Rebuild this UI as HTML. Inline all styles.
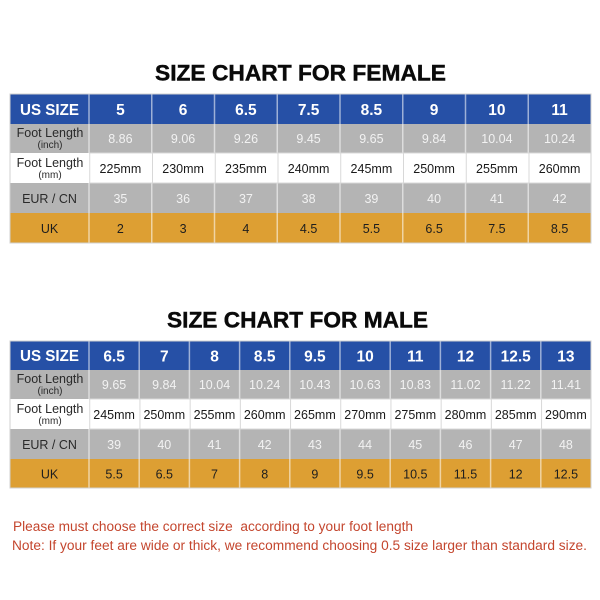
<!DOCTYPE html>
<html>
<head>
<meta charset="utf-8">
<style>
html,body{margin:0;padding:0;background:#fff;}
svg{display:block;}
text{font-family:"Liberation Sans",Arial,sans-serif;}
.t{font-weight:bold;font-size:22.5px;fill:#0a0a0a;stroke:#0a0a0a;stroke-width:0.45;text-anchor:middle;}
.h{font-weight:bold;font-size:15.5px;fill:#fff;text-anchor:middle;}
.lab{font-size:12.5px;fill:#2a2a2a;text-anchor:middle;}
.sub{font-size:10px;fill:#2a2a2a;text-anchor:middle;}
.g{font-size:12.5px;fill:#f2f2f2;text-anchor:middle;}
.w{font-size:12.5px;fill:#1a1a1a;text-anchor:middle;}
.o{font-size:12.5px;fill:#1e1e1e;text-anchor:middle;}
.n{font-size:13.5px;fill:#c4462e;}
</style>
</head>
<body>
<svg width="600" height="600" viewBox="0 0 600 600" xmlns="http://www.w3.org/2000/svg">
<rect width="600" height="600" fill="#fff"/>

<!-- FEMALE -->
<text class="t" x="300.5" y="80.5" textLength="291" lengthAdjust="spacingAndGlyphs">SIZE CHART FOR FEMALE</text>
<rect x="10" y="94" width="581" height="30" fill="#2650a6"/>
<rect x="10" y="124" width="581" height="29" fill="#b4b4b4"/>
<rect x="10" y="153" width="581" height="30" fill="#ffffff"/>
<rect x="10" y="183" width="581" height="30" fill="#b4b4b4"/>
<rect x="10" y="213" width="581" height="30" fill="#dd9f33"/>
<g stroke="#ffffff" stroke-opacity="0.55" stroke-width="1.5">
<line x1="89" y1="94" x2="89" y2="243"/>
<line x1="151.75" y1="94" x2="151.75" y2="243"/>
<line x1="214.5" y1="94" x2="214.5" y2="243"/>
<line x1="277.25" y1="94" x2="277.25" y2="243"/>
<line x1="340" y1="94" x2="340" y2="243"/>
<line x1="402.75" y1="94" x2="402.75" y2="243"/>
<line x1="465.5" y1="94" x2="465.5" y2="243"/>
<line x1="528.25" y1="94" x2="528.25" y2="243"/>
</g>
<g stroke="#d8d8d8" stroke-width="1">
<line x1="89" y1="153" x2="591" y2="153"/>
<line x1="89" y1="183" x2="591" y2="183"/>
<line x1="89.75" y1="153" x2="89.75" y2="183"/>
<line x1="152.5" y1="153" x2="152.5" y2="183"/>
<line x1="215.25" y1="153" x2="215.25" y2="183"/>
<line x1="278" y1="153" x2="278" y2="183"/>
<line x1="340.75" y1="153" x2="340.75" y2="183"/>
<line x1="403.5" y1="153" x2="403.5" y2="183"/>
<line x1="466.25" y1="153" x2="466.25" y2="183"/>
<line x1="529" y1="153" x2="529" y2="183"/>
</g>
<rect x="10" y="94" width="581" height="149" fill="none" stroke="#d0d0d0" stroke-width="1"/>

<text class="h" x="49.5" y="115" textLength="59" lengthAdjust="spacingAndGlyphs">US SIZE</text>
<text class="h" x="120.4" y="115">5</text>
<text class="h" x="183.1" y="115">6</text>
<text class="h" x="245.9" y="115">6.5</text>
<text class="h" x="308.6" y="115">7.5</text>
<text class="h" x="371.4" y="115">8.5</text>
<text class="h" x="434.1" y="115">9</text>
<text class="h" x="496.9" y="115">10</text>
<text class="h" x="559.6" y="115">11</text>

<text class="lab" x="50" y="137">Foot Length</text>
<text class="sub" x="50" y="148">(inch)</text>
<text class="g" x="120.4" y="143">8.86</text>
<text class="g" x="183.1" y="143">9.06</text>
<text class="g" x="245.9" y="143">9.26</text>
<text class="g" x="308.6" y="143">9.45</text>
<text class="g" x="371.4" y="143">9.65</text>
<text class="g" x="434.1" y="143">9.84</text>
<text class="g" x="496.9" y="143">10.04</text>
<text class="g" x="559.6" y="143">10.24</text>

<text class="lab" x="50" y="167">Foot Length</text>
<text class="sub" x="50" y="178">(mm)</text>
<text class="w" x="120.4" y="173">225mm</text>
<text class="w" x="183.1" y="173">230mm</text>
<text class="w" x="245.9" y="173">235mm</text>
<text class="w" x="308.6" y="173">240mm</text>
<text class="w" x="371.4" y="173">245mm</text>
<text class="w" x="434.1" y="173">250mm</text>
<text class="w" x="496.9" y="173">255mm</text>
<text class="w" x="559.6" y="173">260mm</text>

<text class="lab" x="49.5" y="203">EUR / CN</text>
<text class="g" x="120.4" y="203">35</text>
<text class="g" x="183.1" y="203">36</text>
<text class="g" x="245.9" y="203">37</text>
<text class="g" x="308.6" y="203">38</text>
<text class="g" x="371.4" y="203">39</text>
<text class="g" x="434.1" y="203">40</text>
<text class="g" x="496.9" y="203">41</text>
<text class="g" x="559.6" y="203">42</text>

<text class="o" x="49.5" y="233">UK</text>
<text class="o" x="120.4" y="233">2</text>
<text class="o" x="183.1" y="233">3</text>
<text class="o" x="245.9" y="233">4</text>
<text class="o" x="308.6" y="233">4.5</text>
<text class="o" x="371.4" y="233">5.5</text>
<text class="o" x="434.1" y="233">6.5</text>
<text class="o" x="496.9" y="233">7.5</text>
<text class="o" x="559.6" y="233">8.5</text>

<!-- MALE -->
<text class="t" x="297.5" y="327.5" textLength="261" lengthAdjust="spacingAndGlyphs">SIZE CHART FOR MALE</text>
<rect x="10" y="341" width="581" height="29" fill="#2650a6"/>
<rect x="10" y="370" width="581" height="29" fill="#b4b4b4"/>
<rect x="10" y="399" width="581" height="30" fill="#ffffff"/>
<rect x="10" y="429" width="581" height="30" fill="#b4b4b4"/>
<rect x="10" y="459" width="581" height="29" fill="#dd9f33"/>
<g stroke="#ffffff" stroke-opacity="0.55" stroke-width="1.5">
<line x1="89" y1="341" x2="89" y2="488"/>
<line x1="139.2" y1="341" x2="139.2" y2="488"/>
<line x1="189.4" y1="341" x2="189.4" y2="488"/>
<line x1="239.6" y1="341" x2="239.6" y2="488"/>
<line x1="289.8" y1="341" x2="289.8" y2="488"/>
<line x1="340" y1="341" x2="340" y2="488"/>
<line x1="390.2" y1="341" x2="390.2" y2="488"/>
<line x1="440.4" y1="341" x2="440.4" y2="488"/>
<line x1="490.6" y1="341" x2="490.6" y2="488"/>
<line x1="540.8" y1="341" x2="540.8" y2="488"/>
</g>
<g stroke="#d8d8d8" stroke-width="1">
<line x1="89" y1="399" x2="591" y2="399"/>
<line x1="89" y1="429" x2="591" y2="429"/>
<line x1="89.75" y1="399" x2="89.75" y2="429"/>
<line x1="139.95" y1="399" x2="139.95" y2="429"/>
<line x1="190.15" y1="399" x2="190.15" y2="429"/>
<line x1="240.35" y1="399" x2="240.35" y2="429"/>
<line x1="290.55" y1="399" x2="290.55" y2="429"/>
<line x1="340.75" y1="399" x2="340.75" y2="429"/>
<line x1="390.95" y1="399" x2="390.95" y2="429"/>
<line x1="441.15" y1="399" x2="441.15" y2="429"/>
<line x1="491.35" y1="399" x2="491.35" y2="429"/>
<line x1="541.55" y1="399" x2="541.55" y2="429"/>
</g>
<rect x="10" y="341" width="581" height="147" fill="none" stroke="#d0d0d0" stroke-width="1"/>

<text class="h" x="49.5" y="361" textLength="59" lengthAdjust="spacingAndGlyphs">US SIZE</text>
<text class="h" x="114.1" y="361.5">6.5</text>
<text class="h" x="164.3" y="361.5">7</text>
<text class="h" x="214.5" y="361.5">8</text>
<text class="h" x="264.7" y="361.5">8.5</text>
<text class="h" x="314.9" y="361.5">9.5</text>
<text class="h" x="365.1" y="361.5">10</text>
<text class="h" x="415.3" y="361.5">11</text>
<text class="h" x="465.5" y="361.5">12</text>
<text class="h" x="515.7" y="361.5">12.5</text>
<text class="h" x="565.9" y="361.5">13</text>

<text class="lab" x="50" y="383">Foot Length</text>
<text class="sub" x="50" y="394">(inch)</text>
<text class="g" x="114.1" y="389">9.65</text>
<text class="g" x="164.3" y="389">9.84</text>
<text class="g" x="214.5" y="389">10.04</text>
<text class="g" x="264.7" y="389">10.24</text>
<text class="g" x="314.9" y="389">10.43</text>
<text class="g" x="365.1" y="389">10.63</text>
<text class="g" x="415.3" y="389">10.83</text>
<text class="g" x="465.5" y="389">11.02</text>
<text class="g" x="515.7" y="389">11.22</text>
<text class="g" x="565.9" y="389">11.41</text>

<text class="lab" x="50" y="413">Foot Length</text>
<text class="sub" x="50" y="424">(mm)</text>
<text class="w" x="114.1" y="419">245mm</text>
<text class="w" x="164.3" y="419">250mm</text>
<text class="w" x="214.5" y="419">255mm</text>
<text class="w" x="264.7" y="419">260mm</text>
<text class="w" x="314.9" y="419">265mm</text>
<text class="w" x="365.1" y="419">270mm</text>
<text class="w" x="415.3" y="419">275mm</text>
<text class="w" x="465.5" y="419">280mm</text>
<text class="w" x="515.7" y="419">285mm</text>
<text class="w" x="565.9" y="419">290mm</text>

<text class="lab" x="49.5" y="449">EUR / CN</text>
<text class="g" x="114.1" y="449">39</text>
<text class="g" x="164.3" y="449">40</text>
<text class="g" x="214.5" y="449">41</text>
<text class="g" x="264.7" y="449">42</text>
<text class="g" x="314.9" y="449">43</text>
<text class="g" x="365.1" y="449">44</text>
<text class="g" x="415.3" y="449">45</text>
<text class="g" x="465.5" y="449">46</text>
<text class="g" x="515.7" y="449">47</text>
<text class="g" x="565.9" y="449">48</text>

<text class="o" x="49.5" y="478.5">UK</text>
<text class="o" x="114.1" y="478.5">5.5</text>
<text class="o" x="164.3" y="478.5">6.5</text>
<text class="o" x="214.5" y="478.5">7</text>
<text class="o" x="264.7" y="478.5">8</text>
<text class="o" x="314.9" y="478.5">9</text>
<text class="o" x="365.1" y="478.5">9.5</text>
<text class="o" x="415.3" y="478.5">10.5</text>
<text class="o" x="465.5" y="478.5">11.5</text>
<text class="o" x="515.7" y="478.5">12</text>
<text class="o" x="565.9" y="478.5">12.5</text>

<!-- Notes -->
<text class="n" x="13" y="531" textLength="400" lengthAdjust="spacingAndGlyphs" xml:space="preserve">Please must choose the correct size  according to your foot length</text>
<text class="n" x="12" y="550" textLength="575" lengthAdjust="spacingAndGlyphs">Note: If your feet are wide or thick, we recommend choosing 0.5 size larger than standard size.</text>
</svg>
</body>
</html>
